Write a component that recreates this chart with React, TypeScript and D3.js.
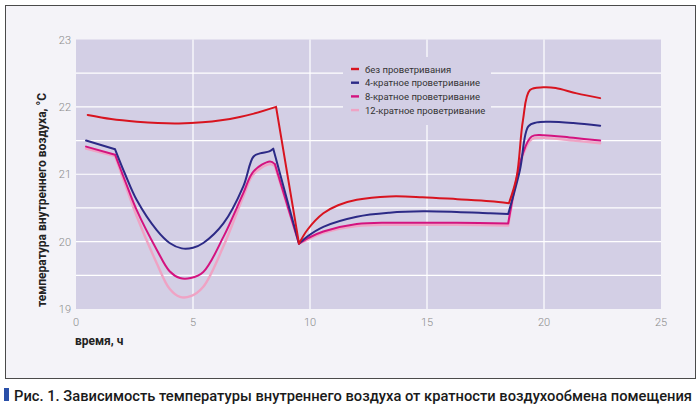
import React, { useEffect, useRef } from "react";
import * as d3 from "d3";

type P = [number, number];

const seriesNames = [
  "без проветривания",
  "4-кратное проветривание",
  "8-кратное проветривание",
  "12-кратное проветривание",
];
const seriesColors = ["#d8141f", "#2c2a86", "#d4137f", "#efa3c4"];

const noVent: P[] = [
  [0.5, 21.88], [1.5, 21.82], [2.6, 21.78], [3.5, 21.76], [4.4, 21.755], [5.4, 21.77],
  [6.2, 21.8], [7.0, 21.85], [7.6, 21.9], [8.55, 22.0],
  [9.53, 19.97],
  [9.9, 20.18], [10.57, 20.42], [11.2, 20.54], [12.0, 20.62], [13.4, 20.67], [14.8, 20.66],
  [16.3, 20.63], [17.7, 20.6], [18.5, 20.57],
  [18.83, 20.96], [19.1, 21.8], [19.4, 22.25], [19.97, 22.29], [20.5, 22.28],
  [21.4, 22.2], [22.4, 22.13],
];
const vent4: P[] = [
  [0.43, 21.5], [1.67, 21.37], [2.1, 21.0], [2.59, 20.62], [3.45, 20.17], [4.0, 19.98], [4.52, 19.9],
  [5.0, 19.91], [5.44, 19.98], [6.3, 20.27], [7.15, 20.82], [7.58, 21.26], [7.86, 21.31],
  [8.26, 21.34], [8.43, 21.38],
  [9.53, 19.97],
  [9.9, 20.08], [10.57, 20.22], [12.0, 20.37], [13.4, 20.43], [14.84, 20.45], [16.27, 20.44],
  [17.7, 20.42], [18.47, 20.41],
  [18.97, 21.06], [19.33, 21.71], [19.69, 21.77], [20.26, 21.78], [21.25, 21.76], [22.4, 21.72],
];
const vent8: P[] = [
  [0.43, 21.41], [1.67, 21.29], [2.1, 20.9], [2.59, 20.47], [3.45, 19.88], [4.0, 19.56], [4.44, 19.46],
  [4.9, 19.46], [5.44, 19.55], [6.3, 20.07], [7.15, 20.72], [7.58, 21.04], [8.29, 21.19],
  [8.5, 21.15],
  [9.53, 19.97],
  [9.9, 20.05], [10.57, 20.15], [12.0, 20.26], [13.4, 20.28], [14.84, 20.28], [16.27, 20.28],
  [18.47, 20.27],
  [19.1, 21.31], [19.47, 21.56], [19.97, 21.58], [21.25, 21.54], [22.4, 21.5],
];
const vent12: P[] = [
  [0.43, 21.38], [1.67, 21.27], [2.1, 20.85], [2.59, 20.38], [3.45, 19.68], [4.0, 19.3], [4.44, 19.18],
  [4.9, 19.19], [5.44, 19.33], [6.3, 19.93], [7.15, 20.67], [7.58, 21.0], [8.29, 21.15],
  [8.5, 21.12],
  [9.53, 19.97],
  [9.9, 20.03], [10.57, 20.13], [12.0, 20.23], [13.4, 20.25], [14.84, 20.25], [16.27, 20.25],
  [18.47, 20.24],
  [19.1, 21.28], [19.47, 21.52], [19.97, 21.54], [21.25, 21.5], [22.4, 21.46],
];
const allSeries = [noVent, vent4, vent8, vent12];

// x-values where each series has a sharp corner
const noVentCorners = [8.55, 9.53, 18.5];
const vent4Corners = [1.67, 8.43, 9.53, 18.47];
const vent8Corners = [1.67, 8.5, 9.53, 18.47];
const vent12Corners = [1.67, 8.5, 9.53, 18.47];
const allCorners = [noVentCorners, vent4Corners, vent8Corners, vent12Corners];

const xTicks = [0, 5, 10, 15, 20, 25];
const yTicks = [19, 20, 21, 22, 23];
const yGrid = [19.5, 20, 20.5, 21, 21.5, 22, 22.5];
const xGrid = [5, 10, 15, 20];

const W = 699;
const H = 414;

function splitAt(points: P[], corners: number[]): P[][] {
  const segs: P[][] = [];
  let cur: P[] = [];
  points.forEach((p) => {
    cur.push(p);
    if (corners.includes(p[0])) {
      segs.push(cur);
      cur = [p];
    }
  });
  if (cur.length > 1) segs.push(cur);
  return segs;
}

export default function App() {
  const ref = useRef<SVGSVGElement>(null);

  useEffect(() => {
    document.body.style.margin = "0";
    const svg = d3.select(ref.current!);
    svg.selectAll("*").remove();

    const x = d3.scaleLinear().domain([0, 25]).range([76, 661]);
    const y = d3.scaleLinear().domain([19, 23]).range([309, 39.5]);

    svg.append("rect").attr("x", 0).attr("y", 0).attr("width", W).attr("height", H).attr("fill", "#ffffff");
    svg.append("rect").attr("x", 5.5).attr("y", 5.5).attr("width", 690).attr("height", 373)
      .attr("fill", "#f4f3f8").attr("stroke", "#4a4a4a").attr("stroke-width", 1);

    svg.append("rect").attr("x", x(0)).attr("y", y(23)).attr("width", x(25) - x(0)).attr("height", y(19) - y(23))
      .attr("fill", "#d3cfe5");

    const g = svg.append("g");
    g.selectAll("line.yg").data(yGrid).join("line")
      .attr("x1", x(0)).attr("x2", x(25)).attr("y1", (d) => y(d)).attr("y2", (d) => y(d))
      .attr("stroke", "#ffffff").attr("stroke-width", 1.2);
    g.selectAll("line.xg").data(xGrid).join("line")
      .attr("x1", (d) => x(d)).attr("x2", (d) => x(d)).attr("y1", y(19)).attr("y2", y(23))
      .attr("stroke", "#ffffff").attr("stroke-width", 1.2);

    svg.append("rect").attr("x", 343).attr("y", 57).attr("width", 148).attr("height", 68).attr("fill", "#d3cfe5");

    svg.selectAll("text.yt").data(yTicks).join("text")
      .attr("x", 71).attr("y", (d) => y(d) + 4).attr("text-anchor", "end")
      .attr("font-family", "Roboto").attr("font-weight", 300).attr("font-size", 11).attr("fill", "#8a8a8a")
      .text((d) => String(d));
    svg.selectAll("text.xt").data(xTicks).join("text")
      .attr("x", (d) => x(d)).attr("y", 326).attr("text-anchor", "middle")
      .attr("font-family", "Roboto").attr("font-weight", 300).attr("font-size", 11).attr("fill", "#8a8a8a")
      .text((d) => String(d));

    const smooth = d3.line<P>().x((d) => x(d[0])).y((d) => y(d[1])).curve(d3.curveCatmullRom.alpha(0.5));
    const straight = d3.line<P>().x((d) => x(d[0])).y((d) => y(d[1]));
    [3, 2, 1, 0].forEach((i) => {
      const segs = splitAt(allSeries[i], allCorners[i]);
      const d = segs.map((s) => (s.length > 2 ? smooth(s) : straight(s))).join("");
      svg.append("path").attr("d", d).attr("fill", "none")
        .attr("stroke", seriesColors[i]).attr("stroke-width", i === 3 ? 2.4 : 2)
        .attr("stroke-linejoin", "round").attr("stroke-linecap", "round");
    });

    const lg = svg.append("g");
    seriesNames.forEach((name, i) => {
      const ly = 69 + i * 13.7;
      lg.append("line").attr("x1", 351).attr("x2", 359).attr("y1", ly).attr("y2", ly)
        .attr("stroke", seriesColors[i]).attr("stroke-width", 2.4);
      lg.append("text").attr("x", 365).attr("y", ly + 3.5)
        .attr("font-family", "Roboto").attr("font-size", 9.5).attr("fill", "#333")
        .text(name);
    });

    svg.append("text").attr("x", 75).attr("y", 345)
      .attr("font-family", "Roboto").attr("font-weight", 700).attr("font-size", 12).attr("fill", "#222")
      .text("время, ч");

    svg.append("text").attr("transform", "translate(46,200) rotate(-90)").attr("text-anchor", "middle")
      .attr("font-family", "Roboto").attr("font-weight", 700).attr("font-size", 12).attr("fill", "#222")
      .text("температура внутреннего воздуха, °C");

    svg.append("rect").attr("x", 4).attr("y", 388).attr("width", 5).attr("height", 13).attr("fill", "#2a4fa8");
    svg.append("text").attr("x", 14).attr("y", 400.5)
      .attr("font-family", "Roboto").attr("font-weight", 500).attr("font-size", 14.5).attr("fill", "#1a1a1a")
      .attr("textLength", 678).attr("lengthAdjust", "spacingAndGlyphs")
      .text("Рис. 1. Зависимость температуры внутреннего воздуха от кратности воздухообмена помещения");
  }, []);

  return <svg ref={ref} width={W} height={H} style={{ display: "block" }} />;
}
